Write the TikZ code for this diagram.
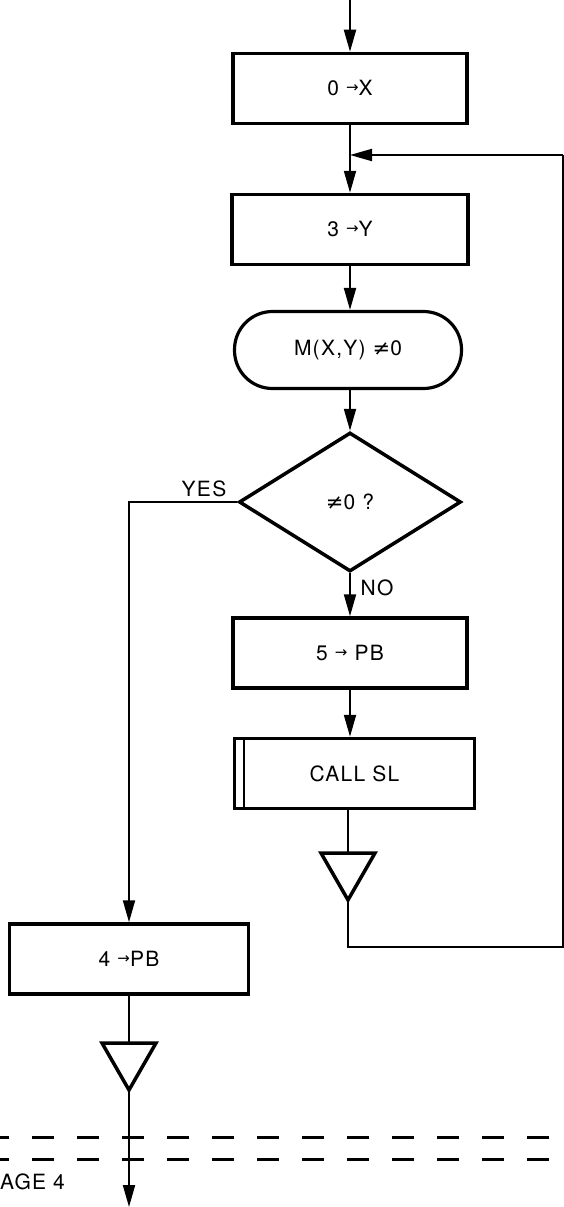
\documentclass[tikz,border=0pt]{standalone}
\usepackage{fontspec}
\setmainfont{TeX Gyre Heros}[LetterSpace=6]
\newfontfamily\symfont{DejaVu Sans}
\usetikzlibrary{arrows.meta,shapes.geometric}
\newcommand{\asg}{\raisebox{3pt}{\symfont\fontsize{15}{16}\selectfont →}}
\newcommand{\nz}{{\symfont ≠}}
\begin{document}
\begin{tikzpicture}[x=1pt,y=-1pt,line width=2pt,
  every node/.style={font=\fontsize{21}{24}\selectfont,inner sep=1pt},
  box/.style={draw,line width=3.5pt,minimum width=#1,minimum height=70pt},
  tri/.style={draw,line width=3.5pt,line join=miter},
  conn/.style={-{Triangle[length=22pt,width=12pt]}}]
\useasboundingbox (0,0) rectangle (564,1207);
\coordinate (in) at (350,0);
\coordinate (J) at (350,155);
\coordinate (R) at (563,155);
\coordinate (Y) at (129,502);
\coordinate (F) at (348,947);
\coordinate (G) at (563,947);
\coordinate (T1m) at (348,853);
\coordinate (T1a) at (321,853);
\coordinate (T1b) at (375,853);
\coordinate (T1c) at (348,900);
\coordinate (T2m) at (129,1043);
\coordinate (T2a) at (102,1043);
\coordinate (T2b) at (156,1043);
\coordinate (T2c) at (129,1090);
\coordinate (out) at (129,1207);
\node[box=234pt] (b0) at (350,88.5) {0 \asg X};
\node[box=236pt] (b3) at (350,229.5) {3 \asg Y};
\node[draw,line width=3.2pt,rounded corners=38pt,minimum width=227pt,minimum height=77pt] (term) at (348,350) {M(X,Y) \nz0};
\node[draw,diamond,line width=3.5pt,aspect=1.6,minimum width=222pt,minimum height=139pt,inner sep=0pt] (dia) at (350,502) {\nz0 ?};
\node[box=234pt] (b5) at (350,653) {5 \asg\ PB};
\node[box=240pt] (call) at (354.5,773.5) {CALL SL};
\draw[line width=2.5pt] ([xshift=11pt]call.north west) -- ([xshift=11pt]call.south west);
\node[box=239pt] (b4) at (129,959) {4 \asg PB};
\draw[tri] (T1a) -- (T1b) -- (T1c) -- cycle;
\draw[tri] (T2a) -- (T2b) -- (T2c) -- cycle;
\begin{scope}[line width=3pt,dash pattern=on 22pt off 23pt]
\draw (-13,1137) -- (564,1137);
\draw (-13,1159) -- (564,1159);
\end{scope}
\draw[conn] (in) -- (b0.north);
\draw[conn] (b0.south) -- (b3.north);
\draw[conn] (R) -- (J);
\draw[conn] (b3.south) -- (b3.south |- term.north);
\draw[conn] (term.south -| dia.north) -- (dia.north);
\draw[conn] (dia.south) -- (b5.north);
\draw[conn] (b5.south) -- (b5.south |- call.north);
\draw (call.south -| T1m) -- (T1m);
\draw (T1c) -- (F) -- (G) -- (R);
\draw[conn] (dia.west) -- (Y) -- (b4.north);
\draw (b4.south) -- (T2m);
\draw[conn] (T2c) -- (out);
\node (yes) at (204,489) {YES};
\node (no) at (377,588) {NO};
\node[anchor=west] (pg) at (-2,1182) {AGE 4};
\end{tikzpicture}
\end{document}
